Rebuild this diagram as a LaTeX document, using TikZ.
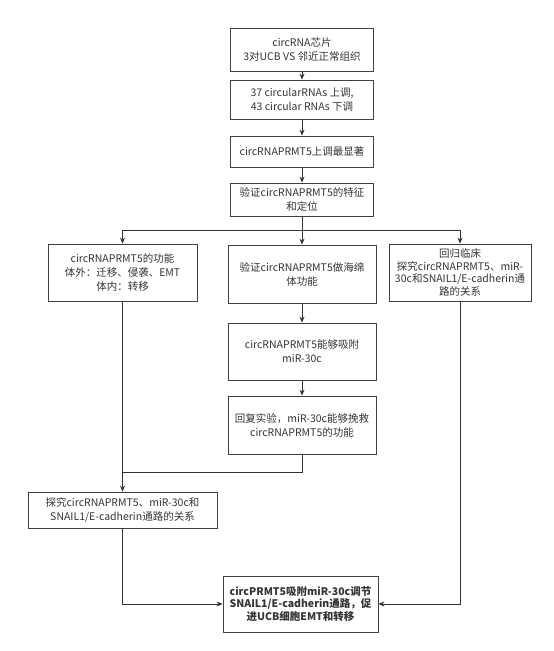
\documentclass[tikz,border=0pt]{standalone}
\usepackage{fontspec}
\setmainfont{Noto Sans CJK SC}
\usetikzlibrary{arrows.meta}
\tikzset{
  flowbox/.style={draw=black!75, line width=0.8pt, align=center, inner sep=2pt,
    font=\fontsize{10.5}{14}\selectfont, text=black!80},
  flowarrow/.style={draw=black!80, line width=0.8pt, -{Stealth[length=6pt,width=5pt]}},
  flowline/.style={draw=black!80, line width=0.8pt}
}
\begin{document}
\begin{tikzpicture}[x=1pt,y=-1pt]
\useasboundingbox (0,0) rectangle (554,651);
% main column
\node[flowbox, minimum width=143, minimum height=43] (chip) at (302,50) {circRNA芯片\\3对UCB VS 邻近正常组织};
\node[flowbox, minimum width=143, minimum height=39] (diff) at (302,99.5) {37 circularRNAs 上调,\\43 circular RNAs 下调};
\node[flowbox, minimum width=143, minimum height=31] (top) at (302,151.5) {circRNAPRMT5上调最显著};
\node[flowbox, minimum width=143, minimum height=33] (verify) at (302,199.5) {验证circRNAPRMT5的特征\\和定位};
% three branches
\node[flowbox, minimum width=149, minimum height=57] (func) at (122.5,272.5) {circRNAPRMT5的功能\\体外：迁移、侵袭、EMT\\体内：转移};
\node[flowbox, minimum width=148, minimum height=58] (sponge) at (302,274) {验证circRNAPRMT5做海绵\\体功能};
\node[flowbox, minimum width=142, minimum height=57, font=\fontsize{10.5}{12.5}\selectfont] (clinic) at (460,272.5) {回归临床\\探究circRNAPRMT5、miR-\\30c和SNAIL1/E-cadherin通\\路的关系};
\node[flowbox, minimum width=148, minimum height=57] (absorb) at (302,351.5) {circRNAPRMT5能够吸附\\miR-30c};
\node[flowbox, minimum width=148, minimum height=58] (rescue) at (302,425) {回复实验，miR-30c能够挽救\\circRNAPRMT5的功能};
\node[flowbox, minimum width=189, minimum height=36] (explore) at (122.5,510) {探究circRNAPRMT5、miR-30c和\\SNAIL1/E-cadherin通路的关系};
\node[flowbox, minimum width=155, minimum height=56, font=\fontsize{10.5}{12.5}\selectfont\bfseries] (result) at (300.5,604) {circPRMT5吸附miR-30c调节\\SNAIL1/E-cadherin通路，促\\进UCB细胞EMT和转移};
\coordinate (split) at (302,230);
\coordinate (join) at (122.5,472);
% connectors
\draw[flowarrow] (chip) -- (diff);
\draw[flowarrow] (diff) -- (top);
\draw[flowarrow] (top) -- (verify);
\draw[flowarrow] (verify) -- (sponge);
\draw[flowarrow] (split) -| (func);
\draw[flowarrow] (split) -| (clinic);
\draw[flowarrow] (sponge) -- (absorb);
\draw[flowarrow] (absorb) -- (rescue);
\draw[flowline] (rescue) |- (join);
\draw[flowarrow] (func) -- (explore);
\draw[flowarrow] (explore) |- (result);
\draw[flowarrow] (clinic) |- (result);
\end{tikzpicture}
\end{document}
